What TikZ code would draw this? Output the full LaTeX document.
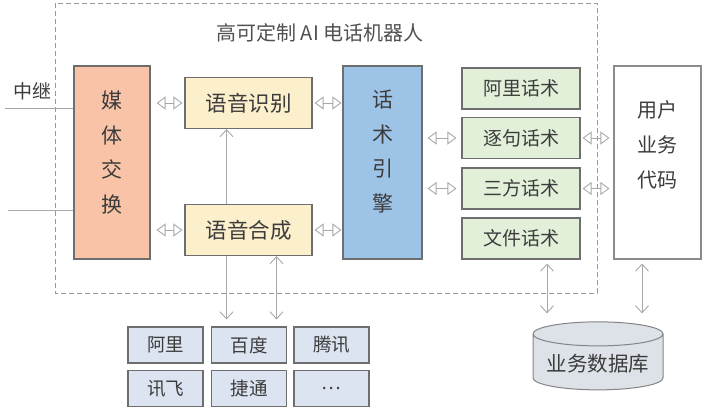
\documentclass[tikz,border=0pt]{standalone}
\usepackage{fontspec}
\setmainfont{Noto Sans CJK SC}
\usetikzlibrary{arrows.meta,shapes.geometric,backgrounds}

\definecolor{txt}{HTML}{3C3C3C}
\definecolor{boxline}{HTML}{6E6E6E}
\definecolor{linegray}{HTML}{A8A8A8}
\definecolor{mediafill}{HTML}{F8C3A6}
\definecolor{speechfill}{HTML}{FCEFCC}
\definecolor{enginefill}{HTML}{9DC3E6}
\definecolor{scriptfill}{HTML}{E2EFD9}
\definecolor{vendorfill}{HTML}{DCE3F1}
\definecolor{dbfill}{HTML}{DDE1E8}

\begin{document}
\begin{tikzpicture}[
  box/.style={draw=boxline, line width=1.1pt, text=txt, inner sep=0pt},
  tall/.style={box, minimum height=193pt},
  speech/.style={box, fill=speechfill, minimum width=127pt, minimum height=51pt,
    font=\fontsize{21.5}{25}\selectfont},
  script/.style={box, fill=scriptfill, minimum width=118pt, minimum height=41pt,
    font=\fontsize{19}{23}\selectfont},
  vendor/.style={box, fill=vendorfill, minimum width=75pt, minimum height=36pt,
    font=\fontsize{18.5}{22}\selectfont},
  vtext/.style={align=center, text=txt, font=\fontsize{21}{34.5}\selectfont},
  hlink/.style={linegray, line width=0.9pt,
    {Triangle[open,length=9pt,width=13pt]}-{Triangle[open,length=9pt,width=13pt]}},
  vlink/.style={linegray, line width=0.9pt,
    {Straight Barb[length=7pt,width=13pt]}-{Straight Barb[length=7pt,width=13pt]}},
  trunk/.style={linegray, line width=0.9pt},
  frame/.style={draw=gray!80, line width=0.8pt, dash pattern=on 5pt off 3pt}
]
  \useasboundingbox (0pt,0pt) rectangle (714pt,-416pt);

  % dashed frame of the robot
  \draw[frame] (55pt,-3pt) rectangle (597pt,-293pt);
  \node[text=txt!90, font=\fontsize{20}{24}\selectfont] (title) at (320pt,-33pt)
    {高可定制 AI 电话机器人};

  \node[tall, fill=mediafill, minimum width=76pt,
    label={[vtext, yshift=10pt]center:媒\\体\\交\\换}] (media) at (112pt,-162.5pt) {};
  \node[speech] (asr) at (248.5pt,-103pt) {语音识别};
  \node[speech] (tts) at (248.5pt,-230pt) {语音合成};
  \node[tall, fill=enginefill, minimum width=79pt,
    label={[vtext, yshift=11pt]center:话\\术\\引\\擎}] (engine) at (382.5pt,-162.5pt) {};

  \node[script] (sAli)     at (521pt,-88.5pt)  {阿里话术};
  \node[script] (sZhuju)   at (521pt,-138pt)   {逐句话术};
  \node[script] (sSanfang) at (521pt,-188.5pt) {三方话术};
  \node[script] (sWenjian) at (521pt,-238.5pt) {文件话术};

  \node[tall, fill=white, minimum width=87pt, draw=boxline!80,
    label={[vtext, yshift=17.5pt, font=\fontsize{20}{35}\selectfont]center:用户\\业务\\代码}]
    (user) at (657.5pt,-162.5pt) {};

  \node[cylinder, shape border rotate=90, aspect=0.22, draw=boxline!85, line width=1pt,
    fill=dbfill, text=txt, minimum width=130pt, minimum height=68pt,
    font=\fontsize{20.5}{24}\selectfont] (db) at (598pt,-364pt) {业务数据库};

  \node[vendor] (vAli)     at (165.5pt,-345pt)   {阿里};
  \node[vendor] (vBaidu)   at (249pt,-345pt)     {百度};
  \node[vendor] (vTencent) at (331.5pt,-345pt)   {腾讯};
  \node[vendor] (vXunfei)  at (165.5pt,-388.5pt) {讯飞};
  \node[vendor] (vJietong) at (249pt,-388.5pt)   {捷通};
  \node[vendor] (vMore)    at (331.5pt,-388.5pt) {\dots};

  % trunk lines
  \node[text=txt, font=\fontsize{19}{22}\selectfont] (trunkLabel) at (32pt,-91pt) {中继};
  \coordinate (trunkA) at (5pt,-108pt);
  \coordinate (trunkB) at (8pt,-210pt);
  \draw[trunk] (trunkA) -- (trunkA -| media.west);
  \draw[trunk] (trunkB) -- (trunkB -| media.west);

  \draw[hlink, shorten <=6pt, shorten >=2pt] (media.east |- asr) -- (asr);
  \draw[hlink, shorten <=6pt, shorten >=2pt] (media.east |- tts) -- (tts);
  \draw[hlink, shorten <=2pt, shorten >=1pt] (asr) -- (asr -| engine.west);
  \draw[hlink, shorten <=2pt, shorten >=1pt] (tts) -- (tts -| engine.west);
  \draw[hlink, shorten <=5pt, shorten >=5pt] (engine.east |- sZhuju) -- (sZhuju);
  \draw[hlink, shorten <=5pt, shorten >=5pt] (engine.east |- sSanfang) -- (sSanfang);
  \draw[hlink, shorten <=2pt, shorten >=4pt] (sZhuju) -- (sZhuju -| user.west);
  \draw[hlink, shorten <=2pt, shorten >=4pt] (sSanfang) -- (sSanfang -| user.west);

  \begin{scope}[on background layer]
  \draw[vlink, shorten >=7pt] ([xshift=-22pt]asr.south) -- ([xshift=-22pt]asr.south |- vBaidu.north);
  \end{scope}
  \draw[vlink, shorten >=7pt] ([xshift=28pt]tts.south) -- ([xshift=28pt]tts.south |- vBaidu.north);
  \draw[vlink, shorten <=4pt, shorten >=8pt] ([xshift=26pt]sWenjian.south) -- ([xshift=26pt]sWenjian.south |- db.north);
  \draw[vlink, shorten <=4pt, shorten >=8pt] ([xshift=-15.5pt]user.south) -- ([xshift=-15.5pt]user.south |- db.north);
\end{tikzpicture}
\end{document}
